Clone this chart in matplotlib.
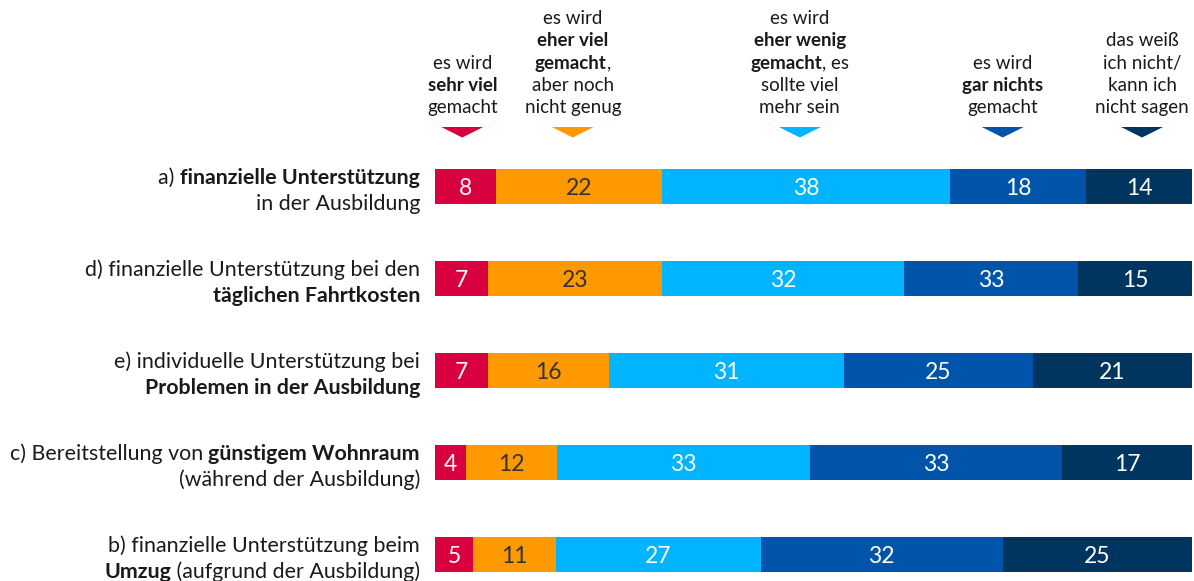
import matplotlib
matplotlib.use("Agg")
import matplotlib.pyplot as plt
from matplotlib.patches import Polygon
from matplotlib.font_manager import FontProperties

# ---------------------------------------------------------
# Daten (Anteile in Prozent)
# ---------------------------------------------------------
themen = ["a", "d", "e", "c", "b"]

sehr_viel = [8, 7, 7, 4, 5]
eher_viel = [22, 23, 16, 12, 11]
eher_wenig = [38, 32, 31, 33, 27]
gar_nichts = [18, 23, 25, 33, 32]
weiss_nicht = [14, 15, 21, 17, 25]
# Zahl im Balken wie in der Vorlage (bei d steht 33, Balken ist 23 breit)
gar_nichts_zahl = [18, 33, 25, 33, 32]

reihen = [sehr_viel, eher_viel, eher_wenig, gar_nichts, weiss_nicht]
zahlen = [sehr_viel, eher_viel, eher_wenig, gar_nichts_zahl, weiss_nicht]
farben = ["#D8003F", "#FF9900", "#00B4FF", "#0055AA", "#003560"]
zahl_farben = ["white", "#333333", "white", "white", "white"]

# (Text, fett) je Zeile
zeilen_text = [
    [[("a) ", False), ("finanzielle Unterstützung", True)],
     [("in der Ausbildung", False)]],
    [[("d) finanzielle Unterstützung bei den", False)],
     [("täglichen Fahrtkosten", True)]],
    [[("e) individuelle Unterstützung bei", False)],
     [("Problemen in der Ausbildung", True)]],
    [[("c) Bereitstellung von ", False), ("günstigem Wohnraum", True)],
     [("(während der Ausbildung)", False)]],
    [[("b) finanzielle Unterstützung beim", False)],
     [("Umzug", True), (" (aufgrund der Ausbildung)", False)]],
]

kopf_text = [
    [[("es wird", False)], [("sehr viel", True)], [("gemacht", False)]],
    [[("es wird", False)], [("eher viel", True)], [("gemacht", True), (",", False)],
     [("aber noch", False)], [("nicht genug", False)]],
    [[("es wird", False)], [("eher wenig", True)], [("gemacht", True), (", es", False)],
     [("sollte viel", False)], [("mehr sein", False)]],
    [[("es wird", False)], [("gar nichts", True)], [("gemacht", False)]],
    [[("das weiß", False)], [("ich nicht/", False)], [("kann ich", False)],
     [("nicht sagen", False)]],
]
kopf_pos = [3.6, 18.2, 48.2, 75.0, 93.4]  # Lage der Spaltenköpfe auf der x-Achse

# ---------------------------------------------------------
# Figur
# ---------------------------------------------------------
W, H = 1194, 581
fig = plt.figure(figsize=(W / 100, H / 100), dpi=100)
renderer = fig.canvas.get_renderer()

TEXTFARBE = "#1a1a1a"
SCHRIFT = "Lato"

ax_links, ax_breite = 435, 757
ax_oben, zeilen_abstand = 140.5, 92
ax = fig.add_axes([ax_links / W, 0, ax_breite / W, (H - ax_oben) / H])
ax.set_xlim(0, 100)
ax.set_ylim(-0.5 + (H - ax_oben) / zeilen_abstand, -0.5)
ax.axis("off")

links = [0] * len(themen)
for werte, zahl, farbe, zfarbe in zip(reihen, zahlen, farben, zahl_farben):
    summen = [sum(r[i] for r in reihen) for i in range(len(themen))]
    breiten = [w * 100 / s for w, s in zip(werte, summen)]
    ax.barh(range(len(themen)), breiten, left=links, height=0.39, color=farbe, linewidth=0)
    for i, (b, z) in enumerate(zip(breiten, zahl)):
        ax.annotate(str(z), (links[i] + b / 2, i), xytext=(0, -6), textcoords="offset points",
                    ha="center", va="baseline", color=zfarbe, fontsize=16.5, family=SCHRIFT)
    links = [l + b for l, b in zip(links, breiten)]


def breite(text, fett, groesse):
    prop = FontProperties(family=SCHRIFT, weight="bold" if fett else "normal", size=groesse)
    w1 = renderer.get_text_width_height_descent("|" + text + "|", prop, ismath=False)[0]
    w2 = renderer.get_text_width_height_descent("||", prop, ismath=False)[0]
    return w1 - w2


def zeile(x, y, teile, ha, groesse):
    ws = [breite(t, f, groesse) for t, f in teile]
    gesamt = sum(ws)
    start = x - gesamt if ha == "right" else x - gesamt / 2
    for (t, f), w in zip(teile, ws):
        fig.text(start / W, 1 - y / H, t, ha="left", va="baseline", fontsize=groesse,
                 family=SCHRIFT, weight="bold" if f else "normal", color=TEXTFARBE)
        start += w


# Zeilenbeschriftungen
for i, zeilen in enumerate(zeilen_text):
    mitte = ax_oben + (i + 0.5) * zeilen_abstand
    zeile(420, mitte - 3, zeilen[0], "right", 15.4)
    zeile(420, mitte + 23, zeilen[1], "right", 15.4)

# Spaltenköpfe mit Dreiecken
for kopf, pos, farbe in zip(kopf_text, kopf_pos, farben):
    cx = ax_links + pos / 100 * ax_breite
    n = len(kopf)
    for j, teile in enumerate(kopf):
        zeile(cx, 113.3 - (n - 1 - j) * 22.3, teile, "center", 13.5)
    ecken = [((cx - 21) / W, 1 - 127 / H), ((cx + 21) / W, 1 - 127 / H), (cx / W, 1 - 137.5 / H)]
    fig.add_artist(Polygon(ecken, closed=True, color=farbe, transform=fig.transFigure, linewidth=0))

fig.savefig("out.png", dpi=100)
